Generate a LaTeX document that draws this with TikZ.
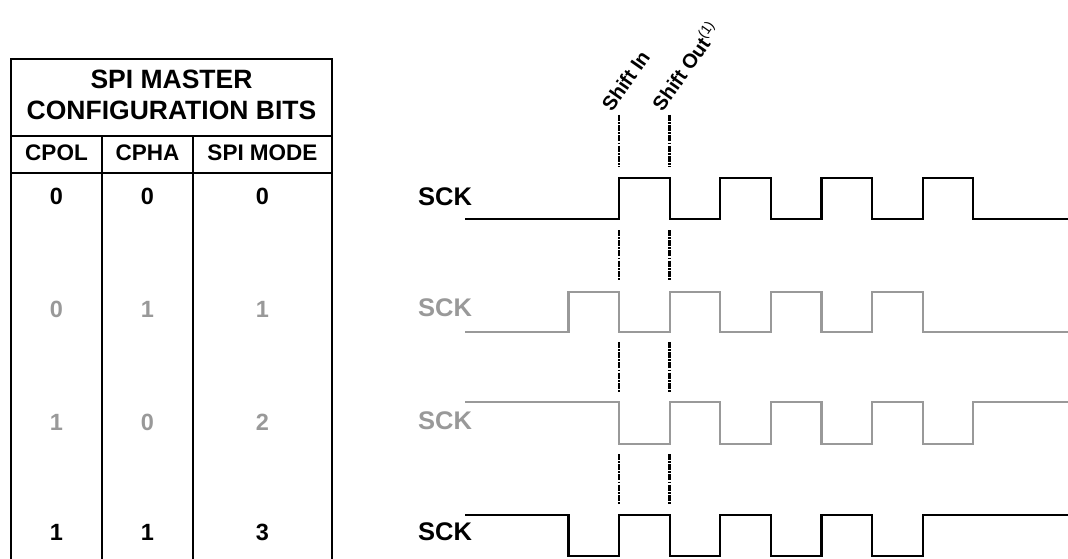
\documentclass[tikz,border=0pt]{standalone}
\usepackage{fontspec}
\setmainfont{Liberation Sans}
\definecolor{sgray}{HTML}{999999}
\begin{document}
\begin{tikzpicture}[x=1pt,y=-1pt,
  tbl/.style={line width=2pt, line cap=rect},
  wave/.style={line width=2.2pt, line join=miter},
  guide/.style={line width=2.4pt, dash pattern=on 6pt off 1.2pt on 1.8pt off 1.2pt},
  capbox/.style={inner sep=0pt, text height=0.72em, text depth=0pt},
  ttl/.style={capbox, font=\fontsize{26.5}{30}\selectfont\bfseries},
  hdr/.style={capbox, font=\fontsize{22.5}{26}\selectfont\bfseries},
  dig/.style={capbox, font=\fontsize{23.5}{26}\selectfont\bfseries},
  sck/.style={capbox, font=\fontsize{25.5}{28}\selectfont\bfseries},
  shl/.style={inner sep=0pt, rotate=55, anchor=base west, font=\fontsize{20}{22}\selectfont\bfseries}]
\useasboundingbox (0,0) rectangle (1068,559);
% table
\draw[tbl] (11,560) -- (11,59) -- (332,59) -- (332,560);
\draw[tbl] (11,135.7) -- (332,135.7);
\draw[tbl] (11,173.3) -- (332,173.3);
\draw[tbl] (101.7,135.7) -- (101.7,560);
\draw[tbl] (193.3,135.7) -- (193.3,560);
\node[ttl] (t1) at (171.5,85) {SPI MASTER};
\node[ttl] (t2) at (171.5,116) {CONFIGURATION BITS};
\node[hdr] (hpol) at (56.5,157) {CPOL};
\node[hdr] (hpha) at (147.5,157) {CPHA};
\node[hdr] (hmode) at (262.5,157) {SPI MODE};
\node[dig] (r1a) at (56.5,201) {0};
\node[dig] (r1b) at (147.5,201) {0};
\node[dig] (r1c) at (262.5,201) {0};
\node[dig, text=sgray] (r2a) at (56.5,314) {0};
\node[dig, text=sgray] (r2b) at (147.5,314) {1};
\node[dig, text=sgray] (r2c) at (262.5,314) {1};
\node[dig, text=sgray] (r3a) at (56.5,427) {1};
\node[dig, text=sgray] (r3b) at (147.5,427) {0};
\node[dig, text=sgray] (r3c) at (262.5,427) {2};
\node[dig] (r4a) at (56.5,537) {1};
\node[dig] (r4b) at (147.5,537) {1};
\node[dig] (r4c) at (262.5,537) {3};
% SCK labels
\node[sck] (s1) at (445,201.5) {SCK};
\node[sck, text=sgray] (s2) at (445,313) {SCK};
\node[sck, text=sgray] (s3) at (445,426) {SCK};
\node[sck] (s4) at (445,537) {SCK};
% edges
\def\Ea{568.4}\def\Eb{619}\def\Ec{669.6}\def\Ed{720.2}\def\Ee{770.8}
\def\Ef{821.4}\def\Eg{872}\def\Eh{922.6}\def\Ei{973.2}
% row 1
\def\L{219.3}\def\H{178.3}
\draw[wave] (465,\L) -- (\Eb,\L) -- (\Eb,\H) -- (\Ec,\H) -- (\Ec,\L) -- (\Ed,\L) -- (\Ed,\H) -- (\Ee,\H) -- (\Ee,\L) -- (\Ef,\L) -- (\Ef,\H) -- (\Eg,\H) -- (\Eg,\L) -- (\Eh,\L) -- (\Eh,\H) -- (\Ei,\H) -- (\Ei,\L) -- (1068,\L);
% row 2
\def\L{332.3}\def\H{291.7}
\draw[wave, sgray] (465,\L) -- (\Ea,\L) -- (\Ea,\H) -- (\Eb,\H) -- (\Eb,\L) -- (\Ec,\L) -- (\Ec,\H) -- (\Ed,\H) -- (\Ed,\L) -- (\Ee,\L) -- (\Ee,\H) -- (\Ef,\H) -- (\Ef,\L) -- (\Eg,\L) -- (\Eg,\H) -- (\Eh,\H) -- (\Eh,\L) -- (1068,\L);
% row 3
\def\L{444}\def\H{402.3}
\draw[wave, sgray] (465,\H) -- (\Eb,\H) -- (\Eb,\L) -- (\Ec,\L) -- (\Ec,\H) -- (\Ed,\H) -- (\Ed,\L) -- (\Ee,\L) -- (\Ee,\H) -- (\Ef,\H) -- (\Ef,\L) -- (\Eg,\L) -- (\Eg,\H) -- (\Eh,\H) -- (\Eh,\L) -- (\Ei,\L) -- (\Ei,\H) -- (1068,\H);
% row 4
\def\L{555.7}\def\H{514.7}
\draw[wave] (465,\H) -- (\Ea,\H) -- (\Ea,\L) -- (\Eb,\L) -- (\Eb,\H) -- (\Ec,\H) -- (\Ec,\L) -- (\Ed,\L) -- (\Ed,\H) -- (\Ee,\H) -- (\Ee,\L) -- (\Ef,\L) -- (\Ef,\H) -- (\Eg,\H) -- (\Eg,\L) -- (\Eh,\L) -- (\Eh,\H) -- (1068,\H);
% guides
\foreach \x in {\Eb,\Ec}{
  \foreach \a/\b in {115/167, 230/280, 342/392, 454/504}{
    \draw[guide] (\x,\a) -- (\x,\b);
  }
}
\node[shl] (shin) at (612,113) {Shift In};
\node[shl] (shout) at (662.6,113) {Shift Out\textsuperscript{\mdseries(1)}};
\end{tikzpicture}
\end{document}
